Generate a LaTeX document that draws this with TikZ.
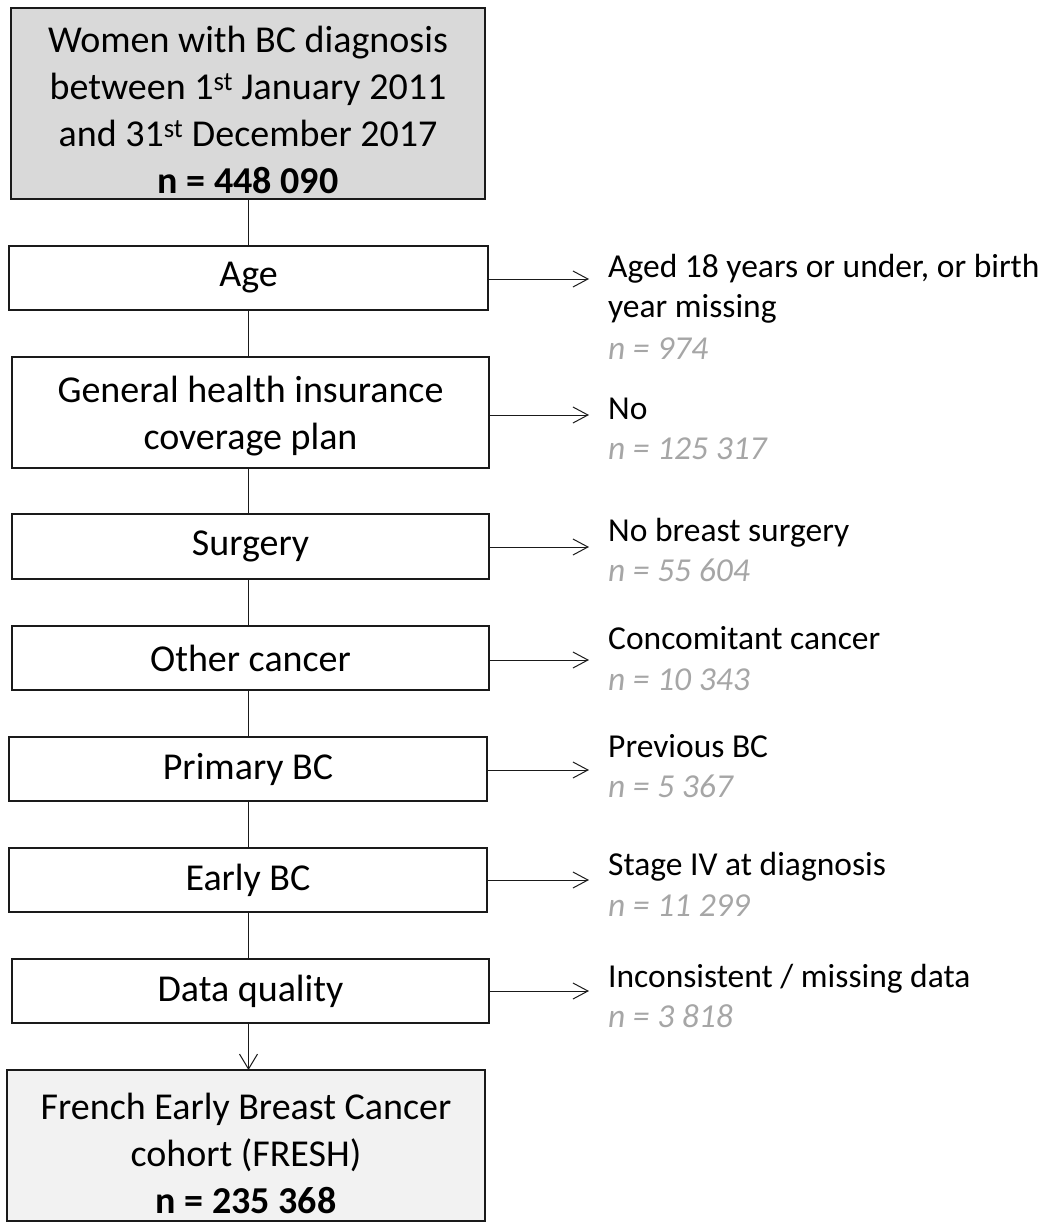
\documentclass[tikz,border=0pt]{standalone}
\usepackage{fontspec}
\setmainfont{Carlito}
\usetikzlibrary{arrows.meta,calc}
\definecolor{headfill}{HTML}{D9D9D9}
\definecolor{footfill}{HTML}{F2F2F2}
\definecolor{countgray}{HTML}{A6A6A6}
\definecolor{edge}{HTML}{1A1A1A}
\tikzset{
  stepbox/.style={draw=edge, line width=1.5pt, inner sep=0pt, outer sep=0pt,
    align=center, font=\fontsize{38}{47}\selectfont},
  boxtext/.style={inner sep=0pt, align=center, font=\fontsize{38}{47}\selectfont},
  reason/.style={anchor=base west, inner sep=0pt, font=\fontsize{33.5}{40}\selectfont},
  count/.style={reason, text=countgray, font=\fontsize{33.5}{40}\selectfont\itshape},
  link/.style={draw=edge, line width=1pt},
  exclude/.style={link, -{Straight Barb[length=15pt,width=16pt,line width=1pt]}},
}
\begin{document}
\begin{tikzpicture}[x=1pt,y=-1pt]
\useasboundingbox (0,0) rectangle (1048,1228);

% main column
\node[stepbox, fill=headfill, minimum width=474pt, minimum height=191pt] (start) at (248,103.5) {};
\node[boxtext] (starttext) at ($(start)+(0,6)$)
  {Women with BC diagnosis\\between 1\textsuperscript{st} January 2011\\and 31\textsuperscript{st} December 2017\\\textbf{n = 448 090}};
\node[stepbox, minimum width=479pt, minimum height=64pt]  (age)     at (248.5,278) {Age};
\node[stepbox, minimum width=477pt, minimum height=111pt] (plan)    at (250.5,412.5) {};
\node[boxtext] (plantext) at ($(plan)+(0,4)$) {General health insurance\\coverage plan};
\node[stepbox, minimum width=477pt, minimum height=65pt]  (surgery) at (250.5,546.5) {Surgery};
\node[stepbox, minimum width=477pt, minimum height=64pt]  (other)   at (250.5,658) {Other cancer};
\node[stepbox, minimum width=478pt, minimum height=64pt]  (primary) at (248,769) {Primary BC};
\node[stepbox, minimum width=478pt, minimum height=64pt]  (early)   at (248,880) {Early BC};
\node[stepbox, minimum width=477pt, minimum height=64pt]  (quality) at (250.5,991) {Data quality};
\node[stepbox, fill=footfill, minimum width=478pt, minimum height=151pt] (cohort) at (246,1145.5) {};
\node[boxtext] (cohorttext) at ($(cohort)+(0,8)$)
  {French Early Breast Cancer\\cohort (FRESH)\\\textbf{n = 235 368}};

% vertical flow
\draw[link] (start.south)   -- (start.south |- age.north);
\draw[link] (age.south)     -- (age.south |- plan.north);
\draw[link] (plan.south -| age.south) -- (age.south |- surgery.north);
\draw[link] (surgery.south -| age.south) -- (age.south |- other.north);
\draw[link] (other.south -| age.south) -- (age.south |- primary.north);
\draw[link] (primary.south -| age.south) -- (age.south |- early.north);
\draw[link] (early.south -| age.south) -- (age.south |- quality.north);
\draw[link, -{Straight Barb[length=15pt,width=18pt,line width=1pt]}]
  (quality.south -| age.south) -- (age.south |- cohort.north);

% exclusion tips
\coordinate (t1) at (589,279);
\coordinate (t2) at (589,415);
\coordinate (t3) at (589,547);
\coordinate (t4) at (589,660);
\coordinate (t5) at (589,770);
\coordinate (t6) at (589,880);
\coordinate (t7) at (589,991);
\draw[exclude] (age.east |- t1)     -- (t1);
\draw[exclude] (plan.east |- t2)    -- (t2);
\draw[exclude] (surgery.east |- t3) -- (t3);
\draw[exclude] (other.east |- t4)   -- (t4);
\draw[exclude] (primary.east |- t5) -- (t5);
\draw[exclude] (early.east |- t6)   -- (t6);
\draw[exclude] (quality.east |- t7) -- (t7);

% exclusion reasons and counts
\node[reason] (r1)  at (608,277) {Aged 18 years or under, or birth};
\node[reason] (r1b) at (608,317) {year missing};
\node[count]  (n1)  at (608,359) {n = 974};
\node[reason] (r2)  at (608,419) {No};
\node[count]  (n2)  at (608,459) {n = 125 317};
\node[reason] (r3)  at (608,541) {No breast surgery};
\node[count]  (n3)  at (608,581) {n = 55 604};
\node[reason] (r4)  at (608,649) {Concomitant cancer};
\node[count]  (n4)  at (608,690) {n = 10 343};
\node[reason] (r5)  at (608,757) {Previous BC};
\node[count]  (n5)  at (608,797) {n = 5 367};
\node[reason] (r6)  at (608,875) {Stage IV at diagnosis};
\node[count]  (n6)  at (608,916) {n = 11 299};
\node[reason] (r7)  at (608,987) {Inconsistent / missing data};
\node[count]  (n7)  at (608,1027) {n = 3 818};
\end{tikzpicture}
\end{document}
